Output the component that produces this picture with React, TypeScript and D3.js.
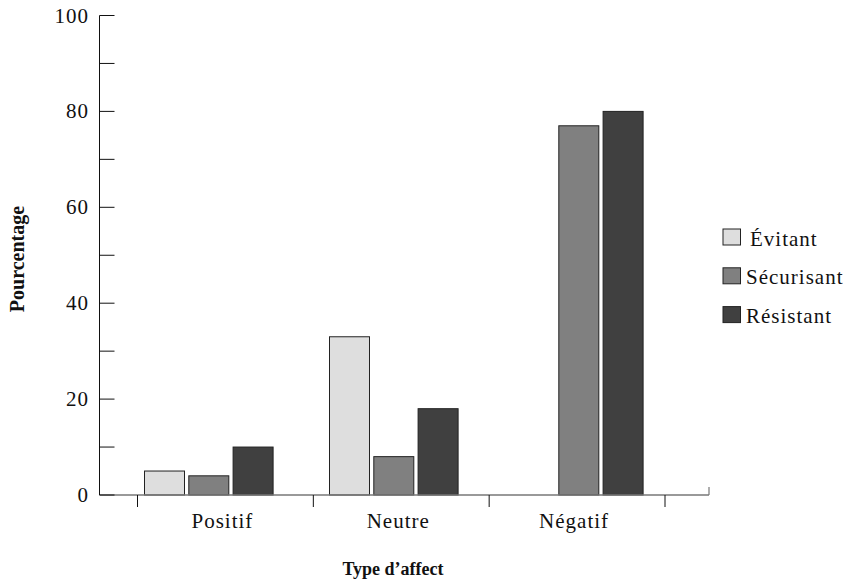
import React from "react";
import * as d3 from "d3";

const categories = ["Positif", "Neutre", "Négatif"];
const series = ["Évitant", "Sécurisant", "Résistant"];
const evitant = [5, 33, 0];
const securisant = [4, 8, 77];
const resistant = [10, 18, 80];
const yTicks = [0, 20, 40, 60, 80, 100];
const yMinorTicks = [10, 30, 50, 70, 90];
const colors = ["#dedede", "#808080", "#404040"];

const W = 849;
const H = 588;
const left = 99.5;
const right = 709;
const top = 15.5;
const bottom = 495;
const FONT = "Liberation Serif, Times New Roman, serif";

export default function App() {
  const values = [evitant, securisant, resistant];
  const y = d3.scaleLinear().domain([0, 100]).range([bottom, top]);
  // axis bands (ticks and labels)
  const x = d3.scaleBand().domain(categories).range([137.5, 665]).paddingInner(0).paddingOuter(0);
  // bar-group placement
  const xg = d3.scaleBand().domain(categories).range([144.5, 144.5 + 3 * 185]).paddingInner(0).paddingOuter(0);
  const barW = 40;
  const gap = 4.3;
  const inner = d3
    .scaleOrdinal<string, number>()
    .domain(series)
    .range(series.map((_, i) => i * (barW + gap)));

  const textStyle = { fontFamily: FONT, fontSize: 21, letterSpacing: 1, fill: "#111" } as React.CSSProperties;

  return (
    <svg width={W} height={H} style={{ position: "absolute", left: 0, top: 0 }}>
      <rect width={W} height={H} fill="#fff" />
      {/* bars */}
      {categories.map((c, ci) =>
        series.map((s, si) => {
          const v = values[si][ci];
          if (!v) return null;
          const x0 = (xg(c) as number) + inner(s);
          return (
            <rect
              key={c + s}
              x={x0}
              y={y(v)}
              width={barW}
              height={y(0) - y(v)}
              fill={colors[si]}
              stroke="#222"
              strokeWidth={1}
            />
          );
        })
      )}
      {/* x axis */}
      <line x1={left} x2={right} y1={bottom} y2={bottom} stroke="#777" strokeWidth={1.5} />
      <line x1={right} x2={right} y1={bottom} y2={bottom - 8} stroke="#777" strokeWidth={1.2} />
      {[...categories.map((c) => x(c) as number), 665].map((t, i) => (
        <line key={"xt" + i} x1={t} x2={t} y1={bottom} y2={bottom + 12} stroke="#111" strokeWidth={1} />
      ))}
      {categories.map((c) => (
        <text
          key={"xl" + c}
          x={(x(c) as number) + x.bandwidth() / 2 - 3}
          y={527.5}
          textAnchor="middle"
          style={textStyle}
        >
          {c}
        </text>
      ))}
      {/* y axis */}
      <line x1={left} x2={left} y1={y(100)} y2={bottom} stroke="#111" strokeWidth={1} />
      {[...yTicks, ...yMinorTicks].map((t) => (
        <line key={"yt" + t} x1={left} x2={left + 15} y1={y(t)} y2={y(t)} stroke="#111" strokeWidth={1} />
      ))}
      {yTicks.map((t) => (
        <text key={"yl" + t} x={89} y={y(t) + 7} textAnchor="end" style={textStyle}>
          {t}
        </text>
      ))}
      {/* axis titles */}
      <text
        transform="translate(24,259) rotate(-90)"
        textAnchor="middle"
        fontFamily={FONT}
        fontSize={20}
        fontWeight="bold"
        fill="#111"
      >
        Pourcentage
      </text>
      <text x={393} y={575} textAnchor="middle" fontFamily={FONT} fontSize={18} fontWeight="bold" fill="#111">
        Type d’affect
      </text>
      {/* legend */}
      {series.map((s, i) => (
        <g key={"lg" + s} transform={`translate(723,${229 + i * 38.8})`}>
          <rect width={17.5} height={16} fill={colors[i]} stroke="#222" strokeWidth={1} />
          <text x={i === 0 ? 27 : 23} y={16.5} style={textStyle}>
            {s}
          </text>
        </g>
      ))}
    </svg>
  );
}
